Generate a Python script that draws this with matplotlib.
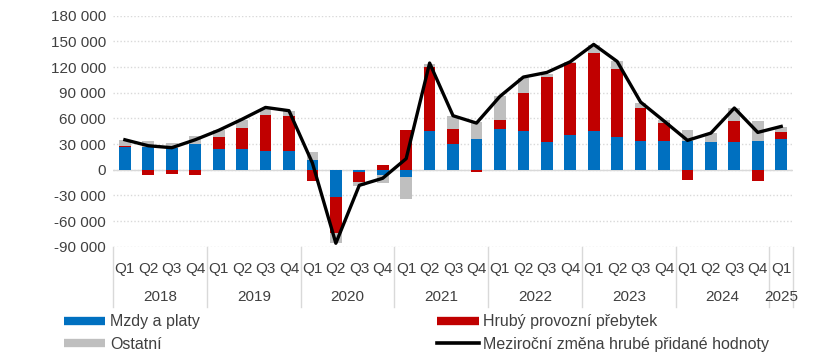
import numpy as np
import matplotlib
matplotlib.use("Agg")
import matplotlib.pyplot as plt
from matplotlib.lines import Line2D
from matplotlib.ticker import FuncFormatter
from matplotlib.transforms import blended_transform_factory

plt.rcParams['font.family'] = ['Liberation Sans', 'DejaVu Sans']

# quarterly data, 2018 Q1 .. 2025 Q1
years = ["2018", "2019", "2020", "2021", "2022", "2023", "2024", "2025"]
quarters = ["Q1", "Q2", "Q3", "Q4"] * 7 + ["Q1"]

wages = [26000, 26900, 25300, 30000, 24500, 24200, 21800, 21800,
         11700, -32400, -2700, -6600, -9000, 45200, 30200, 36200,
         47900, 45600, 32700, 40900, 45200, 38600, 33500, 33100,
         33100, 32700, 32700, 33900, 35800]
surplus = [1300, -6600, -5400, -5800, 13700, 24100, 41700, 40500,
           -13700, -41600, -11700, 5800, 46700, 74300, 17700, -3100,
           10500, 44400, 75200, 83400, 91200, 78600, 38600, 21400,
           -11700, 0, 23800, -13700, 8200]
other = [7700, 7000, 5900, 9700, 7800, 9300, 8600, 6700,
         9000, -11600, -4300, -9000, -24900, 4400, 15200, 19500,
         28100, 17500, 4300, 1900, 9700, 9400, 6200, 3100,
         13300, 9700, 15600, 22600, 6200]
gva_change = [35000, 28000, 25700, 35000, 46000, 59000, 72800, 69000,
              7800, -86000, -18300, -10000, 12900, 124700, 63100, 54500,
              85700, 108300, 113700, 126200, 146500, 126600, 79100, 56900,
              34300, 42800, 72100, 43600, 50600]

labels = ["Mzdy a platy", "Hrubý provozní přebytek", "Ostatní",
          "Meziroční změna hrubé přidané hodnoty"]
colors = ["#0070C0", "#C00000", "#BFBFBF"]
text_color = "#404040"

fig = plt.figure(figsize=(8.2, 3.58), dpi=100)
ax = fig.add_axes([0.138, 0.311, 0.829, 0.645])

x = np.arange(len(quarters))
pos_base = np.zeros(len(x))
neg_base = np.zeros(len(x))
for vals, col in zip([wages, surplus, other], colors):
    v = np.array(vals, dtype=float)
    bottom = np.where(v >= 0, pos_base, neg_base)
    ax.bar(x, v, bottom=bottom, width=0.5, color=col, zorder=2)
    pos_base += np.where(v >= 0, v, 0)
    neg_base += np.where(v < 0, v, 0)

ax.plot(x, gva_change, color="black", lw=2.4, zorder=3)

ax.set_xlim(-0.5, len(x) - 0.5)
ax.set_ylim(-90000, 180000)
ax.set_yticks(np.arange(-90000, 180001, 30000))
ax.yaxis.set_major_formatter(FuncFormatter(lambda v, p: f"{int(v):,}".replace(",", " ")))
ax.grid(axis="y", color="#D9D9D9", lw=1, ls=(0, (1, 1.5)), zorder=0)
ax.axhline(0, color="#D9D9D9", lw=1, zorder=1)
for s in ax.spines.values():
    s.set_visible(False)
ax.tick_params(axis="y", length=0, labelsize=11, colors=text_color, pad=5)
ax.set_xticks([])

# two-level category axis
trans = blended_transform_factory(ax.transData, ax.transAxes)
for i, q in enumerate(quarters):
    ax.text(i, -0.095, q, transform=trans, ha="center", va="center",
            fontsize=11, color=text_color)
for k, yr in enumerate(years):
    start = 4 * k
    end = min(4 * k + 4, len(x))
    ax.text((start + end - 1) / 2, -0.218, yr, transform=trans, ha="center",
            va="center", fontsize=11, color=text_color)
for b in list(range(0, len(x), 4)) + [len(x)]:
    ax.add_line(Line2D([b - 0.5, b - 0.5], [0, -0.26], transform=trans,
                       color="#D9D9D9", lw=1, clip_on=False))

# legend split into two columns placed by hand
h_left = [Line2D([], [], color=colors[0], lw=6, solid_capstyle="butt"),
          Line2D([], [], color=colors[2], lw=6, solid_capstyle="butt")]
h_right = [Line2D([], [], color=colors[1], lw=6, solid_capstyle="butt"),
           Line2D([], [], color="black", lw=2.6)]
for handles, labs, xpos in [(h_left, [labels[0], labels[2]], 0.078),
                            (h_right, [labels[1], labels[3]], 0.533)]:
    fig.legend(handles, labs, loc="upper left", bbox_to_anchor=(xpos, 0.122),
               frameon=False, fontsize=11.5, handlelength=2.6,
               handletextpad=0.3, labelspacing=0.45, borderpad=0,
               borderaxespad=0, labelcolor=text_color)

fig.savefig("out.png", dpi=100)
